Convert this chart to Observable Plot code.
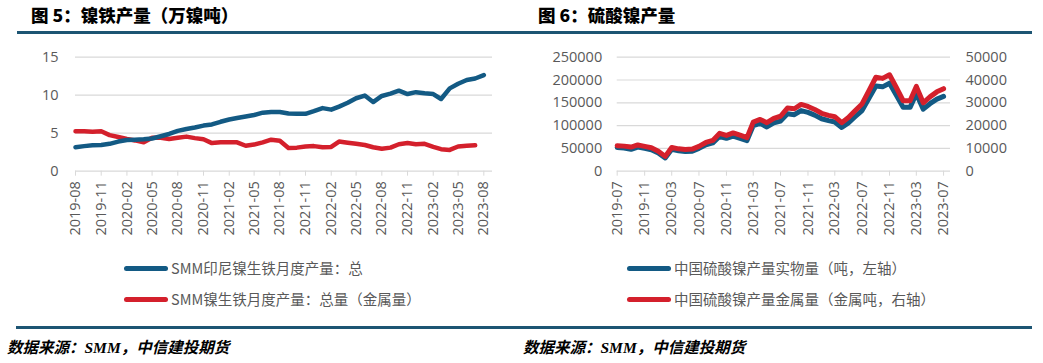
<!DOCTYPE html>
<html><head><meta charset="utf-8">
<script src="https://cdn.jsdelivr.net/npm/d3@7"></script>
<script src="https://cdn.jsdelivr.net/npm/@observablehq/plot@0.6"></script>
<style>
html,body{margin:0;padding:0;background:#fff;}
#root{position:relative;width:1043px;height:363px;overflow:hidden;font-family:"Open Sans","Noto Sans CJK SC",sans-serif;}
.abs{position:absolute;}
.title{font-family:"Noto Sans CJK SC",sans-serif;font-weight:900;font-size:17.5px;color:#000;line-height:1;white-space:nowrap;}
.rule{background:#1d5573;height:3px;}
.src{font-family:"Liberation Serif","Noto Sans CJK SC",serif;font-weight:bold;font-style:italic;font-size:15.5px;color:#000;white-space:nowrap;line-height:1;}
.leg{font-family:"Noto Sans CJK SC",sans-serif;font-size:14.5px;color:#595959;white-space:nowrap;line-height:1;display:flex;align-items:center;}
.sw{display:inline-block;width:44px;height:4.5px;border-radius:3px;margin-right:3px;}
</style></head>
<body><div id="root"></div>
<script>
// ---- data ----
const npiTitle = "图 5：镍铁产量（万镍吨）";
const nsTitle = "图 6：硫酸镍产量";
const sourceText = "数据来源：SMM，中信建投期货";
const npiSeriesNames = ["SMM印尼镍生铁月度产量：总", "SMM镍生铁月度产量：总量（金属量）"];
const nsSeriesNames = ["中国硫酸镍产量实物量（吨，左轴）", "中国硫酸镍产量金属量（金属吨，右轴）"];
// 2019-08 .. 2023-08 (万镍吨)
const indonesiaNPI = [3.15,3.3,3.4,3.45,3.6,3.9,4.1,4.15,4.2,4.3,4.6,4.9,5.3,5.55,5.75,6.0,6.15,6.5,6.8,7.0,7.2,7.4,7.7,7.8,7.8,7.6,7.55,7.55,7.9,8.3,8.1,8.5,9.0,9.6,9.95,9.1,9.9,10.2,10.6,10.15,10.4,10.25,10.15,9.5,10.9,11.5,12.0,12.2,12.65];
// 2019-08 .. 2023-07
const chinaNPIMetal = [5.25,5.25,5.2,5.25,4.75,4.5,4.25,4.05,3.8,4.4,4.4,4.25,4.4,4.55,4.35,4.2,3.7,3.8,3.8,3.8,3.35,3.5,3.8,4.15,4.0,3.05,3.1,3.25,3.3,3.15,3.2,3.9,3.75,3.6,3.45,3.15,2.95,3.1,3.55,3.7,3.55,3.6,3.2,2.9,2.8,3.25,3.35,3.4];
// 2019-07 .. 2023-07
const nsPhysical = [52000,51000,48000,53000,50000,47000,40000,29000,48000,45000,43000,44000,50000,58000,62000,76000,72000,77000,72000,67000,100000,105000,97000,106000,110000,126000,124000,133000,129000,123000,115000,111000,108000,96000,106000,120000,133000,160000,187000,185000,193000,167000,140000,140000,170000,136000,148000,158000,164000];
const nsMetal = [11200,11000,10600,11500,10900,10300,8800,6500,10400,9800,9500,9700,10900,12600,13500,16600,15700,16800,15800,14700,21500,22700,21300,23200,24100,27700,27400,29300,28400,27100,25400,24500,23900,21300,23500,26600,29500,35300,41200,40700,42300,36800,30900,30900,37200,30000,32600,34800,36200];
const npiYTicks = [0,5,10,15];
const nsYTicksLeft = [0,50000,100000,150000,200000,250000];
const nsYTicksRight = [0,10000,20000,30000,40000,50000];

const BLUE = "#135a84", RED = "#d4202c", GRID = "#d9d9d9", AX = "#595959";

const npiMonths = d3.utcMonth.range(new Date(Date.UTC(2019,7,1)), new Date(Date.UTC(2023,8,1)));
const nsMonths = d3.utcMonth.range(new Date(Date.UTC(2019,6,1)), new Date(Date.UTC(2023,7,1)));
const npiRows = npiMonths.map((d,i)=>({date:d, v:indonesiaNPI[i]}));
const npiRows2 = chinaNPIMetal.map((v,i)=>({date:npiMonths[i], v}));
const nsRows = nsMonths.map((d,i)=>({date:d, a:nsPhysical[i], b:nsMetal[i]}));
const fmt = d3.utcFormat("%Y-%m");
const ratio = 250000/50000;

const root = document.getElementById("root");
function add(html, cls, style){const e=document.createElement("div");e.className="abs "+cls;e.style.cssText=style;e.innerHTML=html;root.appendChild(e);return e;}

// titles and rules
add(npiTitle,"title","left:31px;top:6px;");
add(nsTitle,"title","left:538px;top:6px;");
add("","rule","left:17px;top:31px;width:1015px;");
add("","rule","left:16px;top:326px;width:1016px;");
add(sourceText,"src","left:7px;top:340px;");
add(sourceText,"src","left:523px;top:340px;");

const style = {fontFamily:'"Open Sans","Noto Sans CJK SC",sans-serif', fontSize:"14.5px", color:AX, background:"transparent", overflow:"visible"};

const left = Plot.plot({
  width:510, height:200, marginLeft:75, marginRight:18, marginTop:16.7, marginBottom:69.3,
  style,
  x:{type:"utc", domain:[npiMonths[0], new Date(Date.UTC(2023,8,1))]},
  y:{domain:[0,15]},
  marks:[
    Plot.gridY(npiYTicks.filter(d=>d>0), {stroke:GRID, strokeOpacity:1, strokeWidth:1.2}),
    Plot.ruleY([0], {stroke:GRID, strokeWidth:1.2}),
    Plot.axisY({ticks:npiYTicks, tickSize:0, tickPadding:17, label:null, fill:AX}),
    Plot.axisX({ticks:npiMonths.filter((d,i)=>i%3===0), tickFormat:fmt, tickRotate:-90, tickSize:5, tickPadding:5, label:null, stroke:GRID, fill:AX}),
    Plot.line(npiRows2, {x:"date", y:"v", stroke:RED, strokeWidth:4.5}),
    Plot.line(npiRows, {x:"date", y:"v", stroke:BLUE, strokeWidth:4.5})
  ]
});
const lw = add("","", "left:0px;top:40px;");
lw.appendChild(left);

const right = Plot.plot({
  width:523, height:200, marginLeft:96.7, marginRight:93, marginTop:16.7, marginBottom:69.3,
  style,
  x:{type:"utc", domain:[nsMonths[0], new Date(Date.UTC(2023,7,1))]},
  y:{domain:[0,250000]},
  marks:[
    Plot.gridY(nsYTicksLeft.filter(d=>d>0), {stroke:GRID, strokeOpacity:1, strokeWidth:1.2}),
    Plot.ruleY([0], {stroke:GRID, strokeWidth:1.2}),
    Plot.axisY({ticks:nsYTicksLeft, tickSize:0, tickPadding:15, label:null, fill:AX, tickFormat:d=>String(d)}),
    Plot.axisY(nsYTicksRight.map(d=>d*ratio), {anchor:"right", tickSize:0, tickPadding:15, label:null, fill:AX, tickFormat:d=>String(d/ratio)}),
    Plot.axisX({ticks:nsMonths.filter((d,i)=>i%4===0), tickFormat:fmt, tickRotate:-90, tickSize:5, tickPadding:5, label:null, stroke:GRID, fill:AX}),
    Plot.line(nsRows, {x:"date", y:"a", stroke:BLUE, strokeWidth:5}),
    Plot.line(nsRows, {x:"date", y:d=>d.b*ratio, stroke:RED, strokeWidth:5})
  ]
});
const rw = add("","", "left:520px;top:40px;");
rw.appendChild(right);

// legends
add(`<span class="sw" style="background:${BLUE}"></span>${npiSeriesNames[0]}`,"leg","left:124px;top:261px;");
add(`<span class="sw" style="background:${RED}"></span>${npiSeriesNames[1]}`,"leg","left:124px;top:292px;");
add(`<span class="sw" style="background:${BLUE}"></span>${nsSeriesNames[0]}`,"leg","left:627px;top:261px;");
add(`<span class="sw" style="background:${RED}"></span>${nsSeriesNames[1]}`,"leg","left:627px;top:292px;");
</script></body></html>
